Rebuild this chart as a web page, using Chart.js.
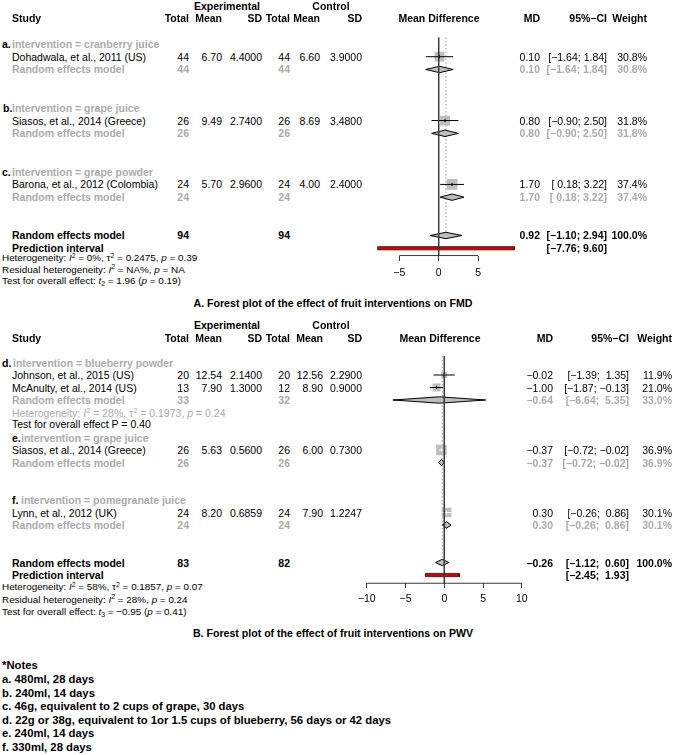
<!DOCTYPE html>
<html><head><meta charset="utf-8">
<script src="https://cdn.jsdelivr.net/npm/chart.js@4/dist/chart.umd.min.js"></script>
<style>
html,body{margin:0;padding:0;background:#fff;}
#page{position:relative;width:678px;height:755px;overflow:hidden;background:#fff;font-family:"Liberation Sans",Arial,Helvetica,sans-serif;font-size:10.5px;color:#000;}
.t{position:absolute;white-space:pre;line-height:12px;height:12px;z-index:2;}
.b{font-weight:bold;}
.g{color:#ababab;}
.s{font-size:9.9px;}
.h{font-size:10.6px;font-weight:bold;}
.n{font-size:11.3px;font-weight:bold;}
canvas{position:absolute;z-index:1;}
sup{font-size:70%;vertical-align:baseline;position:relative;top:-0.5em;line-height:0;}
sub{font-size:70%;vertical-align:baseline;position:relative;top:0.3em;line-height:0;}
</style></head>
<body><div id="page"></div>
<script>
// ================= DATA : Panel A (FMD) =================
const groupLetterA = ["a.", "b.", "c."];
const groupNameA = ["intervention = cranberry juice", "intervention = grape juice", "intervention = grape powder"];
const studyA = ["Dohadwala, et al., 2011 (US)", "Siasos, et al., 2014 (Greece)", "Barona, et al., 2012 (Colombia)"];
const expTotalA = [44, 26, 24];
const expMeanA = ["6.70", "9.49", "5.70"];
const expSdA = ["4.4000", "2.7400", "2.9600"];
const ctlTotalA = [44, 26, 24];
const ctlMeanA = ["6.60", "8.69", "4.00"];
const ctlSdA = ["3.9000", "3.4800", "2.4000"];
const mdA = [0.10, 0.80, 1.70];
const ciLowA = [-1.64, -0.90, 0.18];
const ciHighA = [1.84, 2.50, 3.22];
const weightA = [30.8, 31.8, 37.4];
const subMdA = [0.10, 0.80, 1.70];
const subLowA = [-1.64, -0.90, 0.18];
const subHighA = [1.84, 2.50, 3.22];
const subWeightA = [30.8, 31.8, 37.4];
const subExpTotalA = [44, 26, 24];
const subCtlTotalA = [44, 26, 24];
const overallA = [0.92, -1.10, 2.94];
const overallTotalsA = [94, 94];
const predictionA = [-7.76, 9.60];
const ticksA = [-5, 0, 5];
const hetA = [
  'Heterogeneity: <i>I</i><sup>2</sup> = 0%, \u03c4<sup>2</sup> = 0.2475, <i>p</i> = 0.39',
  'Residual heterogeneity: <i>I</i><sup>2</sup> = NA%, <i>p</i> = NA',
  'Test for overall effect: <i>t</i><sub>2</sub> = 1.96 (<i>p</i> = 0.19)'];
const titleA = "A. Forest plot of the effect of fruit interventions on FMD";

// ================= DATA : Panel B (PWV) =================
const groupLetterB = ["d.", "e.", "f."];
const groupNameB = ["intervention = blueberry powder", "intervention = grape juice", "intervention = pomegranate juice"];
const studyB = ["Johnson, et al., 2015 (US)", "McAnulty, et al., 2014 (US)", "Siasos, et al., 2014 (Greece)", "Lynn, et al., 2012 (UK)"];
const expTotalB = [20, 13, 26, 24];
const expMeanB = ["12.54", "7.90", "5.63", "8.20"];
const expSdB = ["2.1400", "1.3000", "0.5600", "0.6859"];
const ctlTotalB = [20, 12, 26, 24];
const ctlMeanB = ["12.56", "8.90", "6.00", "7.90"];
const ctlSdB = ["2.2900", "0.9000", "0.7300", "1.2247"];
const mdB = [-0.02, -1.00, -0.37, 0.30];
const ciLowB = [-1.39, -1.87, -0.72, -0.26];
const ciHighB = [1.35, -0.13, -0.02, 0.86];
const weightB = [11.9, 21.0, 36.9, 30.1];
const subMdB = [-0.64, -0.37, 0.30];
const subLowB = [-6.64, -0.72, -0.26];
const subHighB = [5.35, -0.02, 0.86];
const subWeightB = [33.0, 36.9, 30.1];
const subExpTotalB = [33, 26, 24];
const subCtlTotalB = [32, 26, 24];
const overallB = [-0.26, -1.12, 0.60];
const overallTotalsB = [83, 82];
const predictionB = [-2.45, 1.93];
const ticksB = [-10, -5, 0, 5, 10];
const subHetB = ['Heterogeneity: <i>I</i><sup>2</sup> = 28%, \u03c4<sup>2</sup> = 0.1973, <i>p</i> = 0.24', 'Test for overall effect P = 0.40'];
const hetB = [
  'Heterogeneity: <i>I</i><sup>2</sup> = 58%, \u03c4<sup>2</sup> = 0.1857, <i>p</i> = 0.07',
  'Residual heterogeneity: <i>I</i><sup>2</sup> = 28%, <i>p</i> = 0.24',
  'Test for overall effect: <i>t</i><sub>3</sub> = \u22120.95 (<i>p</i> = 0.41)'];
const titleB = "B. Forest plot of the effect of fruit interventions on PWV";

const notes = ["*Notes", "a. 480ml, 28 days", "b. 240ml, 14 days", "c. 46g, equivalent to 2 cups of grape, 30 days",
  "d. 22g or 38g, equivalent to 1or 1.5 cups of blueberry, 56 days or 42 days", "e. 240ml, 14 days", "f. 330ml, 28 days"];

// ================= LAYOUT =================
const FONT = '"Liberation Sans", Arial, Helvetica, sans-serif';
const page = document.getElementById('page');

const PANELS = [
  { letters: groupLetterA, names: groupNameA, studies: studyA,
    expN: expTotalA, expM: expMeanA, expS: expSdA, ctlN: ctlTotalA, ctlM: ctlMeanA, ctlS: ctlSdA,
    md: mdA, lo: ciLowA, hi: ciHighA, w: weightA,
    sMd: subMdA, sLo: subLowA, sHi: subHighA, sW: subWeightA, sExpN: subExpTotalA, sCtlN: subCtlTotalA,
    overall: overallA, totals: overallTotalsA, pred: predictionA, ticks: ticksA, het: hetA, title: titleA, subHet: null,
    L: { left: 340, top: 0, w: 200, h: 290, zeroPx: 438.7, ppu: 7.87, row0: 18.4, rowPx: 12.77,
         groupRows: [2, 7, 12], studyRows: [3, 8, 13], subRows: [4, 9, 14], overallRow: 17, predRow: 18, axisRow: 18.57, topRow: 1.5,
         letterX: [2, 3, 2], nameX: [12, 12, 12], hetY: [258, 269.5, 281], titleY: 302.5, tickPad: 6,
         cols: { study: 12, expN: 189, expM: 222, expS: 262, ctlN: 290, ctlM: 320, ctlS: 362, md: 540, ci: 607, w: 647, mdHead: 439, expHead: 227, ctlHead: 331 } } },
  { letters: groupLetterB, names: groupNameB, studies: studyB,
    expN: expTotalB, expM: expMeanB, expS: expSdB, ctlN: ctlTotalB, ctlM: ctlMeanB, ctlS: ctlSdB,
    md: mdB, lo: ciLowB, hi: ciHighB, w: weightB,
    sMd: subMdB, sLo: subLowB, sHi: subHighB, sW: subWeightB, sExpN: subExpTotalB, sCtlN: subCtlTotalB,
    overall: overallB, totals: overallTotalsB, pred: predictionB, ticks: ticksB, het: hetB, title: titleB, subHet: subHetB,
    L: { left: 340, top: 310, w: 200, h: 310, zeroPx: 444.3, ppu: 7.75, row0: 337.5, rowPx: 12.5,
         groupRows: [2, 8, 13], studyRows: [3, 4, 9, 14], subRows: [5, 10, 15], overallRow: 18, predRow: 19, axisRow: 19.66, topRow: 1.5,
         subHetRows: [6, 6.9],
         letterX: [2, 12, 12], nameX: [13, 21, 21], hetY: [587, 599.5, 612], titleY: 633, tickPad: 5,
         cols: { study: 12, expN: 189, expM: 222, expS: 262, ctlN: 290, ctlM: 323, ctlS: 362, md: 553, ci: 629, w: 672, mdHead: 440, expHead: 227, ctlHead: 331 } } }
];

function put(x, y, html, cls, align) {
  const d = document.createElement('div');
  d.className = 't ' + (cls || '');
  d.innerHTML = html;
  d.style.top = (y - 6) + 'px';
  d.style.left = x + 'px';
  if (align === 'r') d.style.transform = 'translateX(-100%)';
  else if (align === 'c') d.style.transform = 'translateX(-50%)';
  page.appendChild(d);
}
const fmt = v => v.toFixed(2).replace('-', '\u2212');
const padL = (s, w) => { while (s.length < w) s = ' ' + s; return s; };

Chart.defaults.font.family = FONT;

function buildChart(P) {
  const L = P.L;
  const cv = document.createElement('canvas');
  cv.width = L.w; cv.height = L.h;
  cv.style.left = L.left + 'px'; cv.style.top = L.top + 'px';
  cv.style.width = L.w + 'px'; cv.style.height = L.h + 'px';
  page.appendChild(cv);
  const xMin = (L.left - L.zeroPx) / L.ppu, xMax = xMin + L.w / L.ppu;
  const yMin = (L.top - L.row0) / L.rowPx, yMax = yMin + L.h / L.rowPx;
  const H = 3.2 / L.rowPx, HP = 1.6 / L.rowPx;
  const ds = [];
  const seg = (pts, o) => Object.assign({ type: 'line', data: pts, pointRadius: 0, borderWidth: 1, borderColor: '#000', fill: false, tension: 0 }, o);
  ds.push(seg([{ x: 0, y: L.topRow }, { x: 0, y: L.axisRow }], { borderColor: '#3a3a3a', order: 0 }));
  ds.push(seg([{ x: P.ticks[0], y: L.axisRow }, { x: P.ticks[P.ticks.length - 1], y: L.axisRow }], { borderColor: '#3a3a3a', order: 0 }));
  ds.push(seg([{ x: P.overall[0], y: L.topRow }, { x: P.overall[0], y: L.overallRow }], { borderColor: '#9c9c9c', borderDash: [1.5, 2], order: 8 }));
  const side = P.w.map(w => 1.75 * Math.sqrt(w));
  ds.push({ type: 'scatter', data: P.md.map((m, i) => ({ x: m, y: L.studyRows[i] })), pointStyle: 'rect',
            pointRadius: side.map(s => s / Math.SQRT2), backgroundColor: '#bebebe', borderColor: '#bebebe', borderWidth: 0, order: 4 });
  const inside = P.md.map((m, i) => (m - P.lo[i]) * L.ppu < side[i] / 2 && (P.hi[i] - m) * L.ppu < side[i] / 2);
  P.md.forEach((m, i) => ds.push(seg([{ x: P.lo[i], y: L.studyRows[i] }, { x: P.hi[i], y: L.studyRows[i] }], { borderColor: inside[i] ? '#fff' : '#000', order: 2 })));
  ds.push({ type: 'scatter', data: P.md.map((m, i) => ({ x: m, y: L.studyRows[i] })), pointStyle: 'line', rotation: 90,
            pointRadius: 1.6, borderWidth: 1, borderColor: inside.map(f => f ? '#fff' : '#000'), order: 1 });
  const diamond = (m, lo, hi, r) => seg([{ x: lo, y: r }, { x: m, y: r - H }, { x: hi, y: r }, { x: m, y: r + H }, { x: lo, y: r }],
    { fill: 'shape', backgroundColor: '#bebebe', borderColor: '#000', borderWidth: 1, borderJoinStyle: 'miter', order: 4 });
  P.sMd.forEach((m, i) => ds.push(diamond(m, P.sLo[i], P.sHi[i], L.subRows[i])));
  ds.push(diamond(P.overall[0], P.overall[1], P.overall[2], L.overallRow));
  const pr = L.predRow;
  ds.push(seg([{ x: P.pred[0], y: pr - HP }, { x: P.pred[1], y: pr - HP }, { x: P.pred[1], y: pr + HP }, { x: P.pred[0], y: pr + HP }, { x: P.pred[0], y: pr - HP }],
    { fill: 'shape', backgroundColor: '#d40000', borderColor: '#3a0000', borderWidth: 0.8, order: 3 }));
  const chart = new Chart(cv, {
    type: 'scatter',
    data: { datasets: ds },
    options: {
      responsive: false, devicePixelRatio: 1, animation: false, events: [], layout: { padding: 0 },
      plugins: { legend: { display: false }, tooltip: { enabled: false }, title: { display: false } },
      scales: {
        x: { type: 'linear', min: xMin, max: xMax, position: { y: L.axisRow },
             afterBuildTicks: ax => { ax.ticks = P.ticks.map(v => ({ value: v })); },
             grid: { drawOnChartArea: false, drawTicks: true, tickLength: 5, tickColor: '#3a3a3a', tickWidth: 1 },
             border: { display: false },
             ticks: { padding: L.tickPad, color: '#000', font: { size: 10.5 }, maxRotation: 0, autoSkip: false,
                      callback: v => String(v).replace('-', '\u2212') } },
        y: { type: 'linear', display: false, reverse: true, min: yMin, max: yMax }
      }
    }
  });
  // align the scales' value-to-pixel mapping with the page layout, whatever area the axes reserved
  for (let k = 0; k < 3; k++) {
    const ys = chart.scales.y, xs = chart.scales.x;
    chart.options.scales.y.min = (ys.top + L.top - L.row0) / L.rowPx;
    chart.options.scales.y.max = (ys.bottom + L.top - L.row0) / L.rowPx;
    chart.options.scales.x.min = (xs.left + L.left - L.zeroPx) / L.ppu;
    chart.options.scales.x.max = (xs.right + L.left - L.zeroPx) / L.ppu;
    chart.update();
  }
  return chart;
}

function textPanel(P, chart) {
  const L = P.L, C = L.cols;
  const Y = r => L.top + chart.scales.y.getPixelForValue(r);
  const lows = P.lo.concat(P.sLo, [P.overall[1], P.pred[0]]).map(v => fmt(v).length);
  const highs = P.hi.concat(P.sHi, [P.overall[2], P.pred[1]]).map(v => fmt(v).length);
  const lw = Math.max(...lows), hw = Math.max(...highs);
  const ci = (lo, hi) => '[' + padL(fmt(lo), lw) + '; ' + padL(fmt(hi), hw) + ']';

  put(C.expHead, Y(-1), 'Experimental', 'b', 'c');
  put(C.ctlHead, Y(-1), 'Control', 'b', 'c');
  const y0 = Y(0);
  put(C.study, y0, 'Study', 'b');
  put(C.expN, y0, 'Total', 'b', 'r'); put(C.expM, y0, 'Mean', 'b', 'r'); put(C.expS, y0, 'SD', 'b', 'r');
  put(C.ctlN, y0, 'Total', 'b', 'r'); put(C.ctlM, y0, 'Mean', 'b', 'r'); put(C.ctlS, y0, 'SD', 'b', 'r');
  put(C.mdHead, y0, 'Mean Difference', 'b', 'c');
  put(C.md, y0, 'MD', 'b', 'r'); put(C.ci, y0, '95%\u2212CI', 'b', 'r'); put(C.w, y0, 'Weight', 'b', 'r');

  P.letters.forEach((l, g) => {
    const y = Y(L.groupRows[g]);
    put(L.letterX[g], y, l, 'b');
    put(L.nameX[g], y, P.names[g], 'b g');
    const ys = Y(L.subRows[g]);
    put(C.study, ys, 'Random effects model', 'b g');
    put(C.expN, ys, String(P.sExpN[g]), 'b g', 'r');
    put(C.ctlN, ys, String(P.sCtlN[g]), 'b g', 'r');
    put(C.md, ys, fmt(P.sMd[g]), 'b g', 'r');
    put(C.ci, ys, ci(P.sLo[g], P.sHi[g]), 'b g', 'r');
    put(C.w, ys, P.sW[g].toFixed(1) + '%', 'b g', 'r');
  });
  P.studies.forEach((s, i) => {
    const y = Y(L.studyRows[i]);
    put(C.study, y, s);
    put(C.expN, y, String(P.expN[i]), '', 'r'); put(C.expM, y, P.expM[i], '', 'r'); put(C.expS, y, P.expS[i], '', 'r');
    put(C.ctlN, y, String(P.ctlN[i]), '', 'r'); put(C.ctlM, y, P.ctlM[i], '', 'r'); put(C.ctlS, y, P.ctlS[i], '', 'r');
    put(C.md, y, fmt(P.md[i]), '', 'r'); put(C.ci, y, ci(P.lo[i], P.hi[i]), '', 'r'); put(C.w, y, P.w[i].toFixed(1) + '%', '', 'r');
  });
  if (P.subHet) {
    put(C.study, Y(L.subHetRows[0]), P.subHet[0], 'g');
    put(C.study, Y(L.subHetRows[1]), P.subHet[1], '');
  }
  const yo = Y(L.overallRow);
  put(C.study, yo, 'Random effects model', 'b');
  put(C.expN, yo, String(P.totals[0]), 'b', 'r'); put(C.ctlN, yo, String(P.totals[1]), 'b', 'r');
  put(C.md, yo, fmt(P.overall[0]), 'b', 'r'); put(C.ci, yo, ci(P.overall[1], P.overall[2]), 'b', 'r'); put(C.w, yo, '100.0%', 'b', 'r');
  const yp = Y(L.predRow);
  put(C.study, yp, 'Prediction interval', 'b');
  put(C.ci, yp, ci(P.pred[0], P.pred[1]), 'b', 'r');
  P.het.forEach((h, k) => put(2, L.hetY[k], h, 's'));
  put(333, L.titleY, P.title, 'h', 'c');
}

PANELS.forEach(P => { const ch = buildChart(P); textPanel(P, ch); });

const noteY = [665, 679, 692.5, 706, 719.5, 733, 746.5];
notes.forEach((n, k) => put(2, noteY[k], n, 'n'));
</script>
</body></html>
